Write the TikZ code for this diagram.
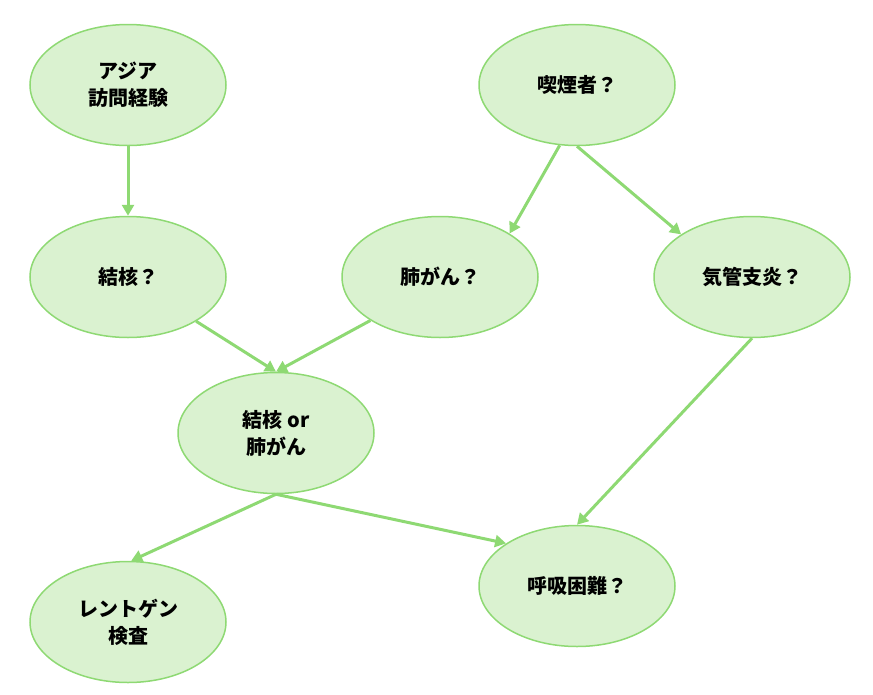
\documentclass[tikz,border=0pt]{standalone}
\usepackage{fontspec}
\usetikzlibrary{shapes.geometric,arrows.meta}
\newfontfamily\jpfont{Noto Sans CJK JP}
\definecolor{nodefill}{HTML}{DAF2D0}
\definecolor{nodeline}{HTML}{8ED973}
\begin{document}
\begin{tikzpicture}[x=1pt,y=-1pt,
  state/.style={ellipse, draw=nodeline, line width=1.5pt, fill=nodefill,
    minimum width=196pt, minimum height=121pt, inner sep=0pt, align=center,
    font=\jpfont\bfseries\fontsize{20}{27}\selectfont},
  link/.style={draw=nodeline, line width=3pt, -{Triangle[length=11pt,width=12pt]}}]
\useasboundingbox (0,0) rectangle (873,694);
\node[state] (nd0) at (128,85){アジア\\訪問経験};
\node[state] (nd1) at (577,85){喫煙者？};
\node[state] (nd2) at (128,277){結核？};
\node[state] (nd3) at (440,277){肺がん？};
\node[state] (nd4) at (752,277){気管支炎？};
\node[state] (nd5) at (276,433){結核 or\\肺がん};
\node[state] (nd6) at (128,622){レントゲン\\検査};
\node[state] (nd7) at (577,586){呼吸困難？};
\draw[link](nd0.south) -- (nd2.north);
\draw[link](nd1.254) -- (nd3.32);
\draw[link](nd1.south) -- (nd4.149);
\draw[link](nd2.-33) -- (nd5.north);
\draw[link](nd3.212) -- (nd5.north);
\draw[link](nd4.south) -- (nd7.north);
\draw[link](nd5.south) -- (nd6.87);
\draw[link](nd5.south) -- (nd7.149);
\end{tikzpicture}
\end{document}
